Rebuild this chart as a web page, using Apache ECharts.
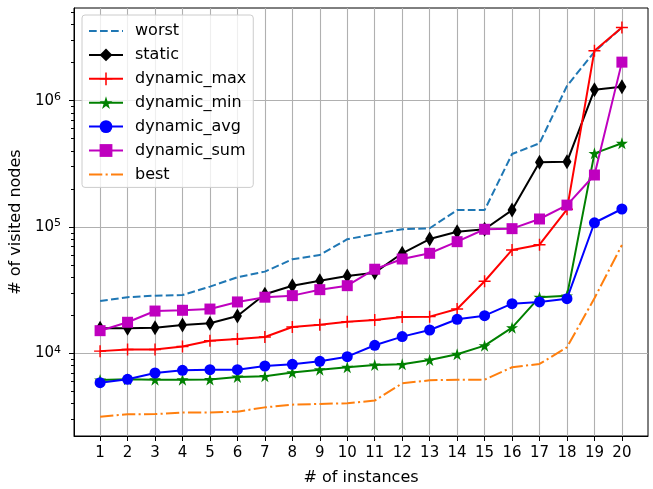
<!DOCTYPE html>
<html>
<head>
<meta charset="utf-8">
<script src="https://cdn.jsdelivr.net/npm/echarts@6/dist/echarts.min.js"></script>
<style>
  html, body { margin: 0; padding: 0; background: #fff; }
  #main { width: 653px; height: 489px; }
</style>
</head>
<body>
<div id="main"></div>
<script>
var instances = [1, 2, 3, 4, 5, 6, 7, 8, 9, 10, 11, 12, 13, 14, 15, 16, 17, 18, 19, 20];

var worst = [25900, 27800, 28600, 28900, 33700, 40000, 44300, 55500, 60000, 80000,
             88000, 96000, 97700, 136000, 136000, 378000, 460000, 1310000, 2440000, 3800000];
var staticNodes = [15800, 15800, 15950, 16750, 17270, 19700, 29300, 34300, 37550, 40900,
                   43500, 61900, 80300, 91800, 95900, 136000, 325000, 328000, 1220000, 1290000];
var dynamicMax = [10400, 10700, 10700, 11300, 12580, 12980, 13460, 16150, 16850, 17800,
                  18350, 19400, 19500, 22400, 37200, 65800, 72400, 138000, 2490000, 3800000];
var dynamicMin = [6150, 6220, 6180, 6180, 6200, 6490, 6570, 7030, 7420, 7750,
                  8080, 8180, 8850, 9820, 11490, 15950, 27800, 28500, 383000, 460000];
var dynamicAvg = [5850, 6220, 6980, 7330, 7420, 7420, 7930, 8180, 8640, 9400,
                  11570, 13550, 15290, 18590, 19850, 24700, 25500, 27050, 108000, 138800];
var dynamicSum = [15100, 17600, 21600, 21900, 22400, 25500, 27800, 28600, 31900, 34300,
                  46300, 55800, 61900, 76500, 95900, 97000, 115700, 149000, 258000, 2020000];
var best = [3150, 3290, 3300, 3390, 3400, 3450, 3730, 3920, 3970, 4020,
            4220, 5780, 6110, 6180, 6180, 7750, 8230, 11150, 27250, 72000];

var majorTicks = [10000, 100000, 1000000];
var minorTicks = [3000, 4000, 5000, 6000, 7000, 8000, 9000,
                  20000, 30000, 40000, 50000, 60000, 70000, 80000, 90000,
                  200000, 300000, 400000, 500000, 600000, 700000, 800000, 900000,
                  2000000, 3000000, 4000000, 5000000];

function pairs(vals) {
    return instances.map(function (x, i) { return [x, vals[i]]; });
}

var FONT = 'DejaVu Sans';
var plusPath = 'path://M4.4,0h1.2v10h-1.2zM0,4.4h10v1.2h-10z';
var starPath = 'path://M50,0L61.23,34.55L97.55,34.55L68.17,55.9L79.39,90.45L50,69.1L20.61,90.45L31.83,55.9L2.45,34.55L38.77,34.55Z';

var chartDom = document.getElementById('main');
var myChart = echarts.init(chartDom);
var option;

function lineSeries(name, vals, color, symbol, size, dash) {
    return {
        name: name,
        type: 'line',
        data: pairs(vals),
        symbol: symbol,
        symbolSize: size,
        showSymbol: symbol !== 'none',
        animation: false,
        itemStyle: { color: color },
        lineStyle: { color: color, width: 2, type: dash || 'solid' },
        emphasis: { disabled: true }
    };
}

option = {
    animation: false,
    textStyle: { fontFamily: FONT },
    grid: {
        left: 74, right: 5, top: 8, bottom: 53,
        outerBoundsMode: 'none',
        containLabel: false,
        show: true, borderColor: '#000', borderWidth: 1
    },
    legend: {
        orient: 'vertical',
        left: 82,
        top: 15,
        padding: [8, 7, 5, 6],
        itemWidth: 34,
        itemHeight: 16,
        itemGap: 7.9,
        backgroundColor: 'rgba(255,255,255,0.8)',
        borderColor: '#cccccc',
        borderWidth: 1,
        borderRadius: 3,
        textStyle: { fontSize: 16, color: '#000', fontFamily: FONT, padding: [0, 0, 0, 7], lineHeight: 16 },
        data: [
            { name: 'worst', itemStyle: { opacity: 0 } },
            'static', 'dynamic_max', 'dynamic_min', 'dynamic_avg', 'dynamic_sum',
            { name: 'best', itemStyle: { opacity: 0 } }
        ]
    },
    xAxis: {
        type: 'value',
        min: 0.05,
        max: 20.95,
        name: '# of instances',
        nameLocation: 'middle',
        nameGap: 34,
        nameTextStyle: { fontSize: 16, color: '#000', fontFamily: FONT },
        axisLine: { show: true, lineStyle: { color: '#000', width: 1 } },
        axisTick: { show: true, length: 5, lineStyle: { color: '#000' }, customValues: instances },
        axisLabel: { fontSize: 15, color: '#000', margin: 10, customValues: instances, fontFamily: FONT },
        splitLine: { show: true, lineStyle: { color: '#b0b0b0', width: 1.1 } }
    },
    yAxis: [{
        type: 'log',
        min: 2213,
        max: 5420000,
        name: '# of visited nodes',
        nameLocation: 'middle',
        nameGap: 42,
        nameTextStyle: { fontSize: 16, color: '#000', fontFamily: FONT },
        axisLine: { show: true, lineStyle: { color: '#000', width: 1 } },
        axisTick: { show: true, length: 5, lineStyle: { color: '#000' }, customValues: majorTicks },
        axisLabel: {
            margin: 13,
            customValues: majorTicks,
            formatter: function (v) {
                return '{b|10}{s|' + Math.round(Math.log10(v)) + '}';
            },
            rich: {
                b: { fontSize: 15, color: '#000', fontFamily: FONT },
                s: { fontSize: 11, color: '#000', fontFamily: FONT, verticalAlign: 'top', padding: [0, 0, 7, 0] }
            }
        },
        splitLine: { show: true, lineStyle: { color: '#b0b0b0', width: 1.1 } }
    }, {
        type: 'log',
        min: 2213,
        max: 5420000,
        position: 'left',
        axisLine: { show: false },
        axisTick: { show: true, length: 3, lineStyle: { color: '#000' }, customValues: minorTicks },
        axisLabel: { show: false },
        splitLine: { show: false }
    }],
    series: [
        lineSeries('worst', worst, '#1f77b4', 'none', 0, [7.7, 3.3]),
        lineSeries('static', staticNodes, '#000000', 'diamond', [9, 15]),
        lineSeries('dynamic_max', dynamicMax, '#ff0000', plusPath, 12),
        lineSeries('dynamic_min', dynamicMin, '#008000', starPath, 12),
        lineSeries('dynamic_avg', dynamicAvg, '#0000ff', 'circle', 11),
        lineSeries('dynamic_sum', dynamicSum, '#bf00bf', 'rect', 11),
        lineSeries('best', best, '#ff7f0e', 'none', 0, [13.3, 3.3, 2.1, 3.3])
    ]
};

option && myChart.setOption(option);
</script>
</body>
</html>
